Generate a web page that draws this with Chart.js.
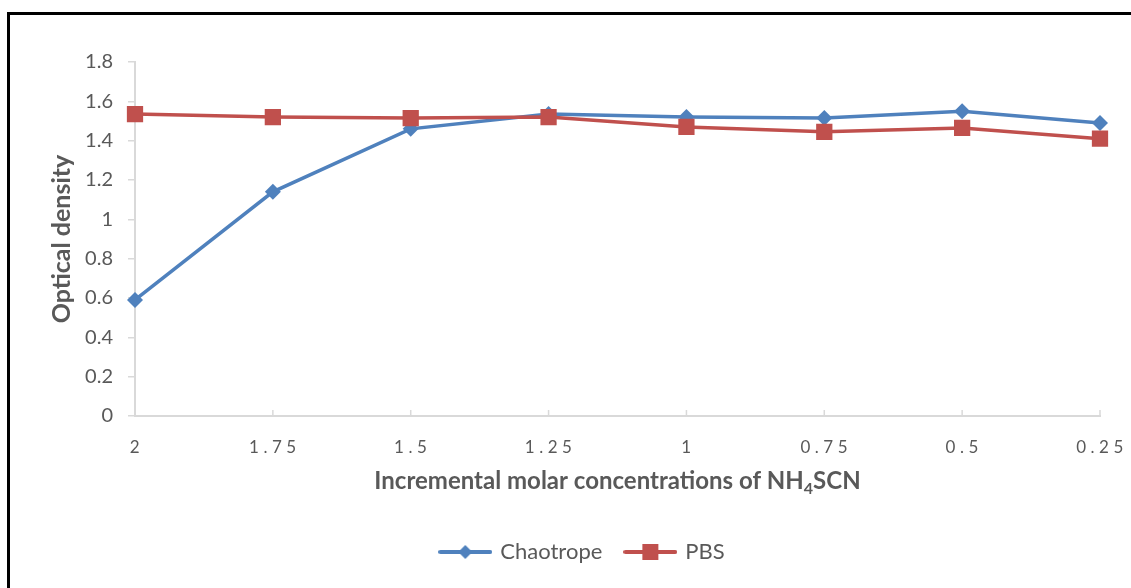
<!DOCTYPE html>
<html>
<head>
<meta charset="utf-8">
<script src="https://cdn.jsdelivr.net/npm/chart.js@4.4.1/dist/chart.umd.min.js"></script>
<style>
  html, body { margin:0; padding:0; background:#fff; overflow:hidden; }
  #wrap { position:relative; width:1131px; height:588px; }
  #frame { position:absolute; left:7px; top:12px; width:1200px; height:700px; border:3px solid #000; box-sizing:border-box; }
  canvas { position:absolute; left:0; top:0; }
</style>
</head>
<body>
<div id="wrap">
  <div id="frame"></div>
  <canvas id="chart" width="1131" height="588"></canvas>
</div>
<script>
// 資料
const labels = ['2', '1.75', '1.5', '1.25', '1', '0.75', '0.5', '0.25'];
const chaotrope = [0.59, 1.14, 1.46, 1.535, 1.52, 1.515, 1.55, 1.49];
const pbs = [1.535, 1.52, 1.515, 1.52, 1.47, 1.445, 1.465, 1.41];
const yTicks = [0, 0.2, 0.4, 0.6, 0.8, 1, 1.2, 1.4, 1.6, 1.8];

const BLUE = '#4F81BD';
const RED = '#C0504D';
const TXT = '#595959';
const AXIS = '#d9d9d9';
const FONT = 'Lato, "Open Sans", sans-serif';

// legend 圖示：線 + 標記
function legendIcon(color, shape){
  const c = document.createElement('canvas');
  c.width = 54; c.height = 20;
  const g = c.getContext('2d');
  g.strokeStyle = color; g.lineWidth = 4; g.lineCap = 'round';
  g.beginPath(); g.moveTo(2,10); g.lineTo(52,10); g.stroke();
  g.fillStyle = color;
  if(shape === 'diamond'){
    g.beginPath(); g.moveTo(27,3); g.lineTo(34,10); g.lineTo(27,17); g.lineTo(20,10); g.closePath(); g.fill();
  } else {
    g.fillRect(19,2,16,16);
  }
  return c;
}
const icons = [legendIcon(BLUE,'diamond'), legendIcon(RED,'square')];

// x 軸內側小刻度、x 軸標題(含下標)、刻度字距
const extras = {
  id:'extras',
  beforeDraw(chart){
    const s = chart.scales.x;
    if(!s._lsWrapped){
      const orig = s.drawLabels;
      s.drawLabels = function(area){
        const c = this.ctx; c.save(); c.letterSpacing = '4.5px'; c.translate(2,0); orig.call(this, area); c.restore();
      };
      s._lsWrapped = true;
    }
  },
  beforeDatasetsDraw(chart){
    const {ctx, chartArea} = chart;
    const s = chart.scales.x;
    ctx.save();
    ctx.strokeStyle = AXIS; ctx.lineWidth = 1.5;
    for(let i=1;i<labels.length;i++){
      const x = s.getPixelForTick(i);
      ctx.beginPath(); ctx.moveTo(x, chartArea.bottom); ctx.lineTo(x, chartArea.bottom-6); ctx.stroke();
    }
    ctx.restore();
  },
  afterDraw(chart){
    const {ctx, chartArea} = chart;
    const main = 'bold 24px ' + FONT, sub = 'bold 16px ' + FONT;
    const p1 = 'Incremental molar concentrations of NH', p2 = '4', p3 = 'SCN';
    ctx.save();
    ctx.fillStyle = TXT; ctx.textBaseline = 'alphabetic'; ctx.textAlign = 'left';
    ctx.font = main; const w1 = ctx.measureText(p1).width, w3 = ctx.measureText(p3).width;
    ctx.font = sub; const w2 = ctx.measureText(p2).width;
    let x = (chartArea.left + chartArea.right)/2 - (w1+w2+w3)/2;
    const y = 489;
    ctx.font = main; ctx.fillText(p1, x, y); x += w1;
    ctx.font = sub; ctx.fillText(p2, x, y+5); x += w2;
    ctx.font = main; ctx.fillText(p3, x, y);
    ctx.restore();
  }
};

new Chart(document.getElementById('chart'), {
  type:'line',
  data:{
    labels: labels,
    datasets:[
      { label:'Chaotrope', data: chaotrope, borderColor: BLUE, backgroundColor: BLUE,
        borderWidth:3.5, pointStyle:'rectRot', pointRadius:8, pointBorderWidth:0, order:1 },
      { label:'PBS', data: pbs, borderColor: RED, backgroundColor: RED,
        borderWidth:3.5, pointStyle:'rect', pointRadius:11.5, pointBorderWidth:0, order:0 }
    ]
  },
  options:{
    responsive:false,
    animation:false,
    layout:{ padding:{ left:66, right:31, top:62, bottom:15 } },
    scales:{
      x:{
        offset:false,
        grid:{ display:false },
        border:{ color: AXIS, width:2 },
        ticks:{ color: TXT, font:{ family: FONT, size:17 }, padding:13, maxRotation:0, autoSkip:false },
        afterFit(scale){ scale.height = 101; }
      },
      y:{
        min:0, max:1.8,
        afterBuildTicks(scale){ scale.ticks = yTicks.map(v => ({value:v})); },
        grid:{ drawOnChartArea:false, drawTicks:true, tickLength:7, color: AXIS, lineWidth:1.5 },
        border:{ color: AXIS, width:2 },
        ticks:{ color: TXT, font:{ family: FONT, size:20 }, padding:15,
          callback: v => String(Number(v.toFixed(1))) },
        title:{ display:true, text:'Optical density', color: TXT, padding:{ top:-19 },
          font:{ family: FONT, size:25, weight:'bold' } },
        afterFit(scale){ scale.width = 69; }
      }
    },
    plugins:{
      tooltip:{ enabled:false },
      legend:{
        position:'bottom',
        labels:{
          usePointStyle:true, pointStyleWidth:48, padding:24,
          color: TXT, font:{ family: FONT, size:22 },
          sort:(a,b) => a.datasetIndex - b.datasetIndex,
          generateLabels(chart){
            const items = Chart.defaults.plugins.legend.labels.generateLabels(chart);
            items.forEach(it => { it.pointStyle = icons[it.datasetIndex]; });
            return items;
          }
        }
      }
    }
  },
  plugins:[extras]
});
</script>
</body>
</html>
